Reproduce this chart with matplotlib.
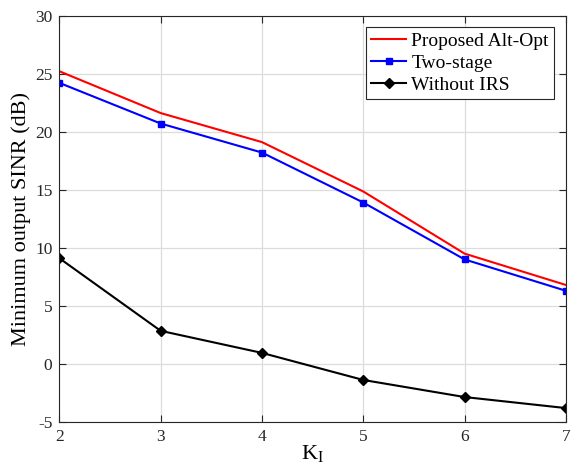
import matplotlib
matplotlib.use("Agg")
import matplotlib.pyplot as plt

plt.rcParams['font.family'] = ['Liberation Serif', 'DejaVu Serif']
plt.rcParams['mathtext.fontset'] = 'custom'
plt.rcParams['mathtext.rm'] = 'Liberation Serif'
plt.rcParams['axes.unicode_minus'] = False

# data
k = [2, 3, 4, 5, 6, 7]
alt_opt = [25.2, 21.6, 19.1, 14.85, 9.5, 6.8]
two_stage = [24.2, 20.7, 18.2, 13.9, 9.0, 6.3]
without_irs = [9.1, 2.85, 0.95, -1.38, -2.85, -3.8]

fig = plt.figure(figsize=(5.71, 4.66), dpi=100)
ax = fig.add_axes([0.104, 0.0944, 0.887, 0.8723])

ax.plot(k, alt_opt, color='red', lw=1.5, label='Proposed Alt-Opt')
ax.plot(k, two_stage, color='blue', lw=1.5, marker='s', markersize=5, label='Two-stage')
ax.plot(k, without_irs, color='black', lw=1.5, marker='D', markersize=5.5, label='Without IRS')

ax.set_xlim(2, 7)
ax.set_ylim(-5, 30)
ax.set_xticks(k)
ax.set_yticks(range(-5, 31, 5))
ax.grid(True, color='#dcdcdc', lw=0.9)
ax.set_axisbelow(True)
ax.tick_params(direction='in', top=True, right=True, labelsize=12.5, colors='#262626',
               length=5, pad=5)
for s in ax.spines.values():
    s.set_color('#262626')

ax.set_xlabel(r'K$_\mathrm{I}$', fontsize=16, labelpad=-1)
ax.set_ylabel('Minimum output SINR (dB)', fontsize=16, labelpad=3)

leg = ax.legend(loc='upper right', fontsize=14, fancybox=False, edgecolor='#262626',
                framealpha=1, handlelength=1.8, handletextpad=0.25, borderpad=0.28,
                labelspacing=0.22, borderaxespad=0.6)
leg.get_frame().set_linewidth(0.8)

fig.savefig('out.png', dpi=100)
